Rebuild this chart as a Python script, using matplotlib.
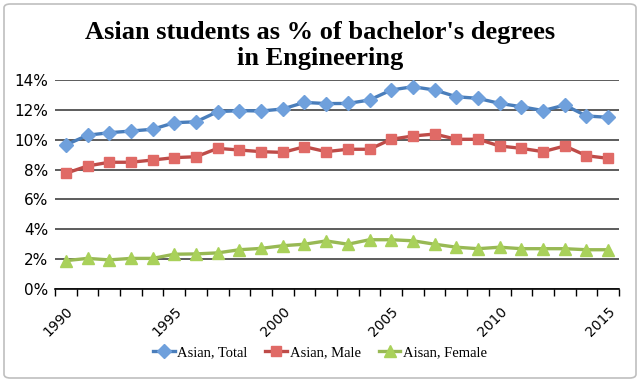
import matplotlib
matplotlib.use("Agg")
import matplotlib.pyplot as plt
from matplotlib.patches import FancyBboxPatch
from matplotlib.ticker import FuncFormatter, MultipleLocator

# Data (percent)
years = list(range(1990, 2016))
asian_total = [9.65, 10.3, 10.47, 10.58, 10.7, 11.14, 11.2, 11.88, 11.95, 11.92,
               12.06, 12.5, 12.42, 12.43, 12.66, 13.33, 13.55, 13.33, 12.88, 12.77,
               12.43, 12.21, 11.95, 12.32, 11.59, 11.5]
asian_male = [7.75, 8.24, 8.49, 8.49, 8.64, 8.8, 8.86, 9.42, 9.31, 9.2,
              9.15, 9.53, 9.2, 9.36, 9.36, 10.03, 10.25, 10.38, 10.03, 10.03,
              9.58, 9.42, 9.2, 9.58, 8.93, 8.75]
asian_female = [1.9, 2.05, 1.95, 2.05, 2.05, 2.33, 2.35, 2.42, 2.63, 2.72,
                2.9, 3.0, 3.22, 3.0, 3.3, 3.3, 3.23, 3.0, 2.8, 2.7,
                2.8, 2.7, 2.7, 2.7, 2.63, 2.63]
labels = ["Asian, Total", "Asian, Male", "Aisan, Female"]
title_lines = ["Asian students as % of bachelor's degrees", "in Engineering"]

fig = plt.figure(figsize=(6.4, 3.82), dpi=100)
ax = fig.add_axes([55 / 640, 1 - 289 / 382, 564 / 640, 209 / 382])

ax.plot(years, asian_total, color="#4a7ebb", lw=2.4, marker="D", ms=7,
        mfc="#6fa0dc", mec="#6fa0dc", label=labels[0])
ax.plot(years, asian_male, color="#be4b48", lw=2.4, marker="s", ms=7,
        mfc="#e06a66", mec="#e06a66", label=labels[1])
ax.plot(years, asian_female, color="#98b954", lw=2.4, marker="^", ms=8,
        mfc="#a9d15a", mec="#a9d15a", label=labels[2])

ax.set_xlim(1989.5, 2015.5)
ax.set_ylim(0, 14)
ax.yaxis.set_major_locator(MultipleLocator(2))
ax.yaxis.set_major_formatter(FuncFormatter(lambda v, p: f"{v:.0f}%"))
ax.grid(axis="y", color="#303030", lw=1.1)
ax.set_axisbelow(True)

ax.set_xticks(range(1990, 2016, 5))
ax.set_xticks([y - 0.5 for y in range(1990, 2017)], minor=True)
ax.tick_params(axis="x", which="major", length=0, pad=11)
ax.tick_params(axis="x", which="minor", length=5, width=1, color="black", direction="out")
ax.tick_params(axis="y", length=0, pad=5, labelsize=11)
for lab in ax.get_xticklabels():
    lab.set_rotation(45)
    lab.set_ha("right")
    lab.set_rotation_mode("anchor")
    lab.set_fontsize(10)

for s in ["left", "right", "top"]:
    ax.spines[s].set_visible(False)
ax.spines["bottom"].set_color("black")
ax.spines["bottom"].set_linewidth(1.2)

fig.text(0.5, 1 - 39 / 382, title_lines[0], ha="center", va="baseline",
         fontsize=19, fontweight="bold", family="Liberation Serif")
fig.text(0.5, 1 - 65 / 382, title_lines[1], ha="center", va="baseline",
         fontsize=19, fontweight="bold", family="Liberation Serif")

fig.legend(loc="center", bbox_to_anchor=(0.5, 1 - 353 / 382), ncol=3, frameon=False,
           handlelength=1.5, handletextpad=0.2, columnspacing=1.2,
           prop={"family": "Liberation Serif", "size": 10.5})

fig.patches.append(FancyBboxPatch((4 / 640, 4 / 382), 632 / 640, 374 / 382,
                                  boxstyle="round,pad=0,rounding_size=0.01",
                                  transform=fig.transFigure, fill=False,
                                  edgecolor="#bfbfbf", lw=1.2))

fig.savefig("out.png", dpi=100)
